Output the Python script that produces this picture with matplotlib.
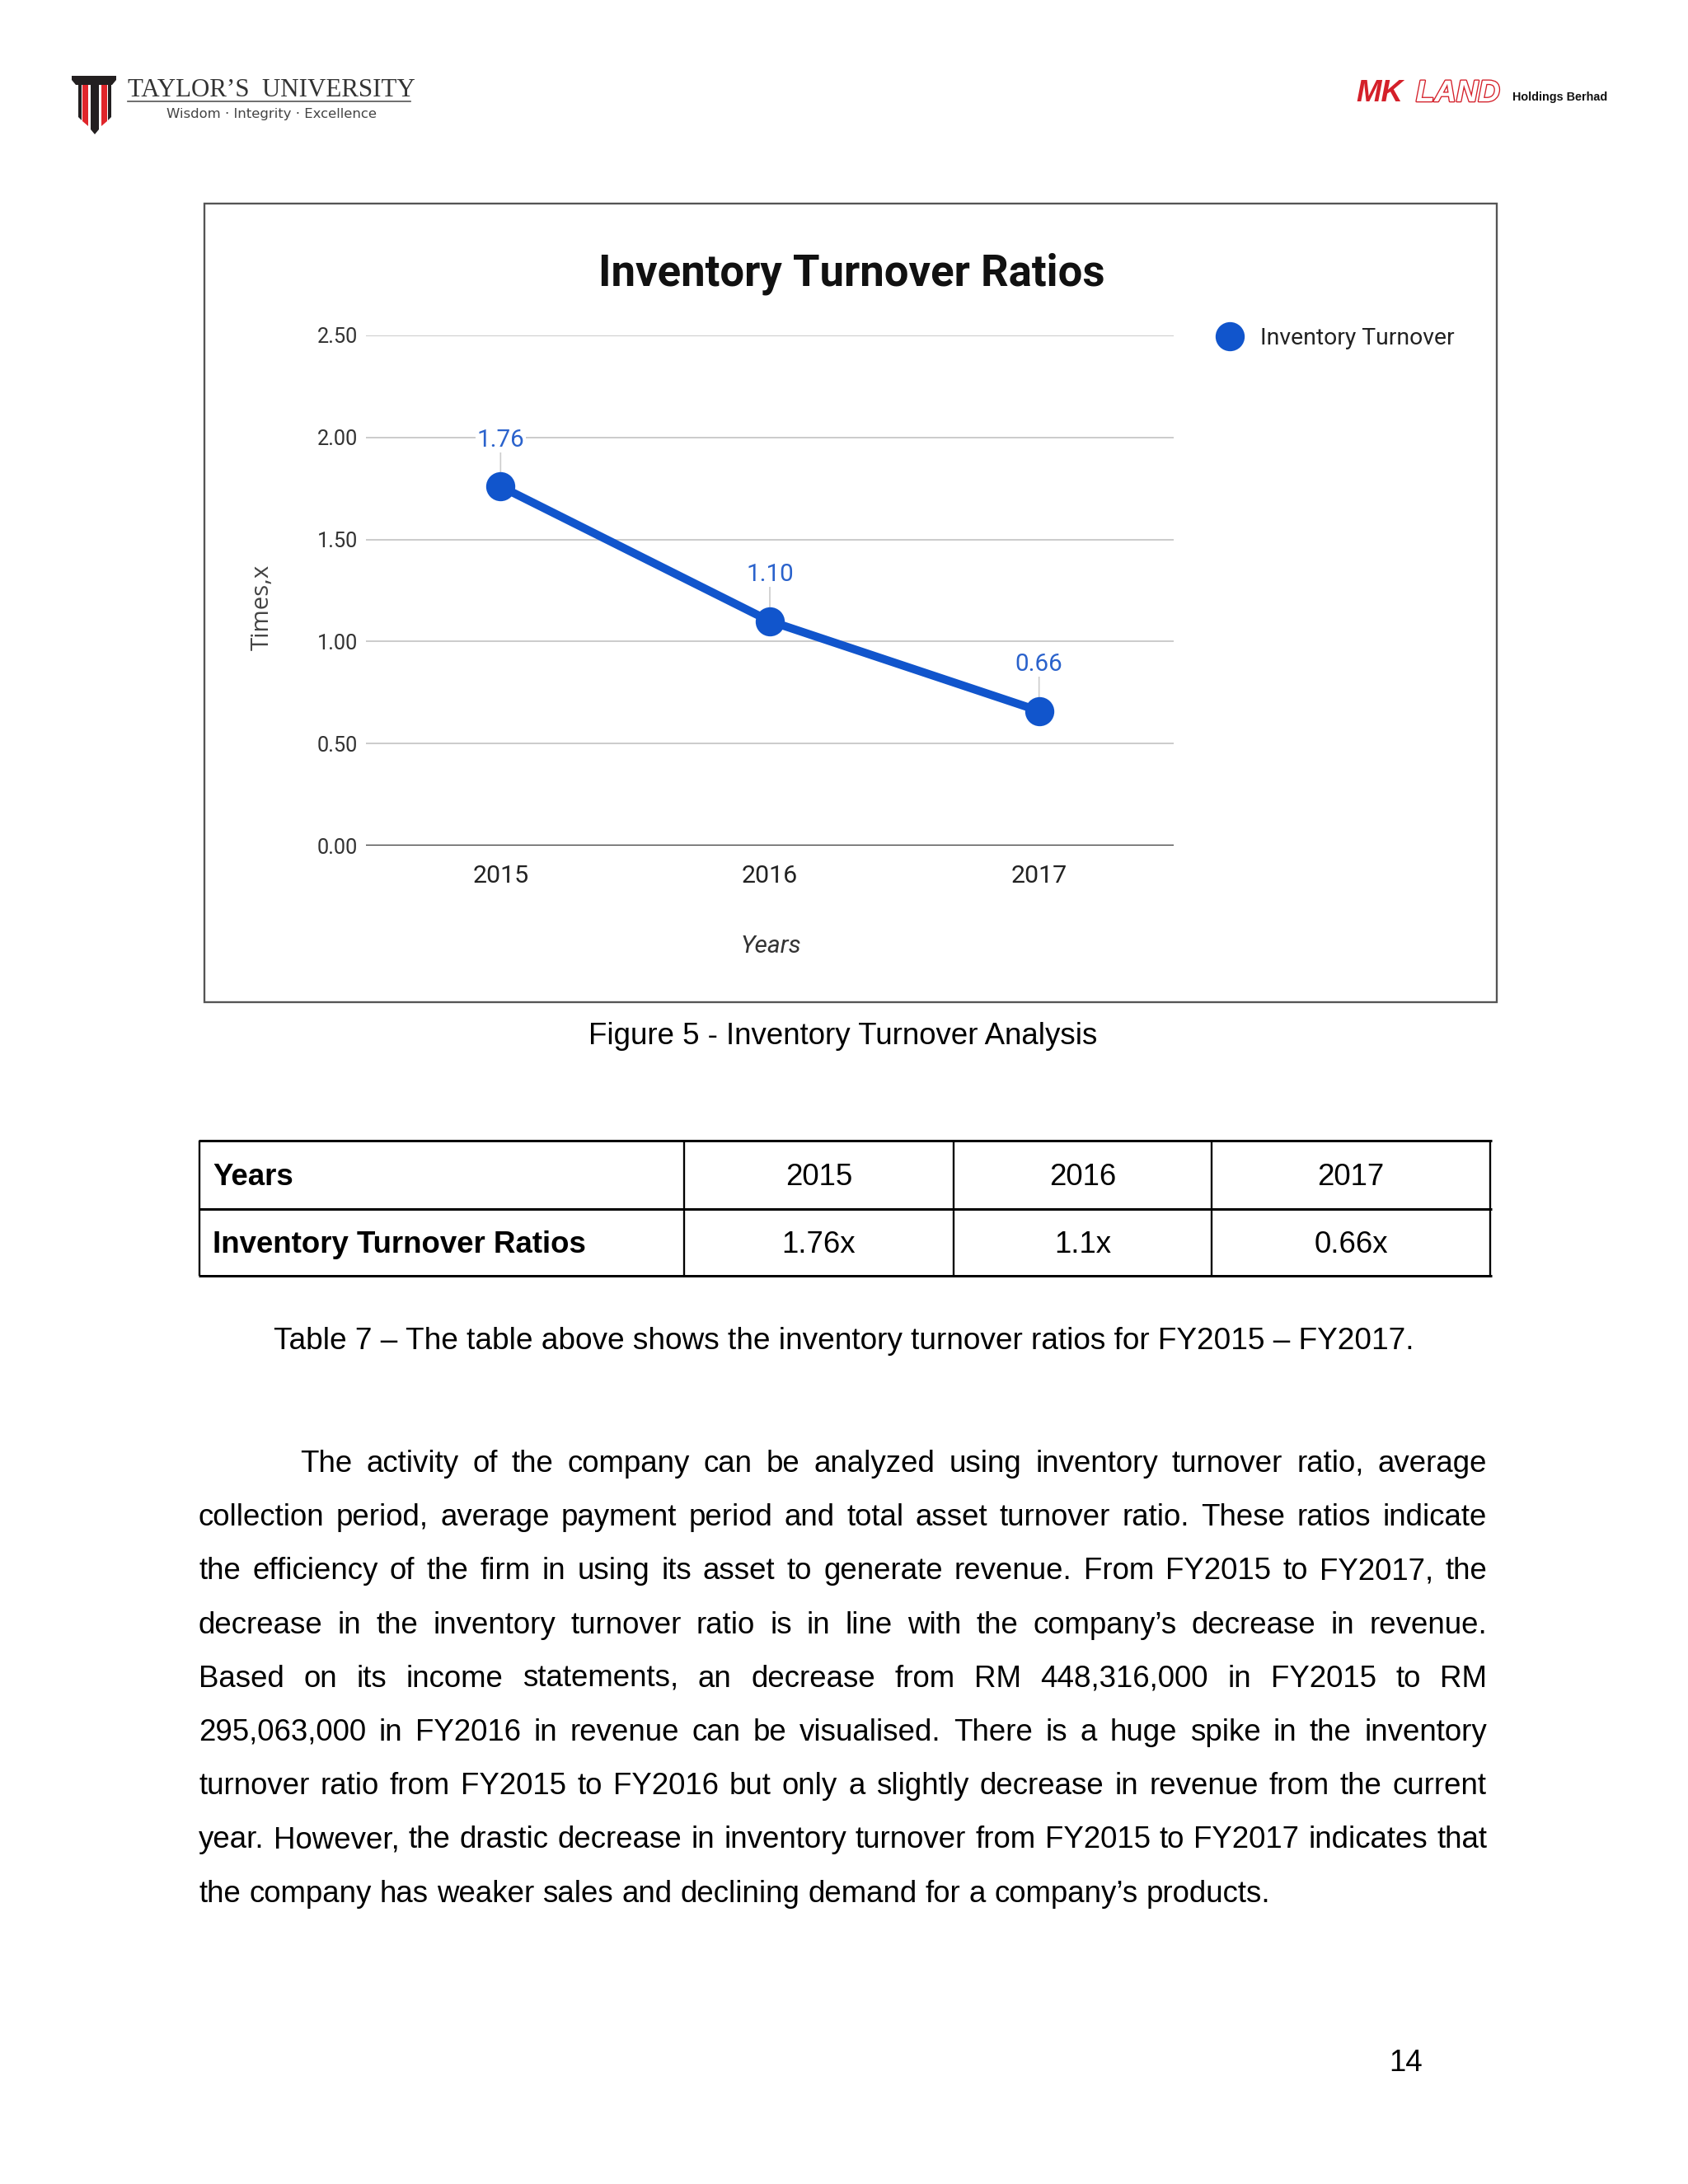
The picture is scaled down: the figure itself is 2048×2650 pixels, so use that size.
import matplotlib
matplotlib.use("Agg")
import matplotlib.pyplot as plt
import matplotlib.patheffects as pe
from matplotlib.patches import Rectangle, Polygon
from matplotlib.lines import Line2D

# datos del grafico
years = ['2015', '2016', '2017']
turnover = [1.76, 1.10, 0.66]
turnover_labels = ['1.76', '1.10', '0.66']
y_ticks = [0.0, 0.5, 1.0, 1.5, 2.0, 2.5]

# datos de la tabla
table_header = 'Years'
table_row_name = 'Inventory Turnover Ratios'
table_values = ['1.76x', '1.1x', '0.66x']

paragraph_lines = [
    "The activity of the company can be analyzed using inventory turnover ratio, average",
    "collection period, average payment period and total asset turnover ratio. These ratios indicate",
    "the efficiency of the firm in using its asset to generate revenue. From FY2015 to FY2017, the",
    "decrease in the inventory turnover ratio is in line with the company\u2019s decrease in revenue.",
    "Based on its income statements, an decrease from RM 448,316,000 in FY2015 to RM",
    "295,063,000 in FY2016 in revenue can be visualised. There is a huge spike in the inventory",
    "turnover ratio from FY2015 to FY2016 but only a slightly decrease in revenue from the current",
    "year. However, the drastic decrease in inventory turnover from FY2015 to FY2017 indicates that",
    "the company has weaker sales and declining demand for a company\u2019s products.",
]

W, H = 2048, 2650
DPI = 240
BLUE = '#1155cc'
DOC_FONT = 'Liberation Sans'

fig = plt.figure(figsize=(W / DPI, H / DPI), dpi=DPI)
fig.patch.set_facecolor('white')

# capa de pagina en pixeles (y hacia abajo)
page = fig.add_axes([0, 0, 1, 1])
page.set_xlim(0, W)
page.set_ylim(H, 0)
page.axis('off')


def box(l, t, r, b):
    return [l / W, 1 - b / H, (r - l) / W, (b - t) / H]


# --- encabezado: logo Taylor's ---
dark = '#231f20'
red = '#e0262b'
page.add_patch(Polygon([(87, 92), (141, 92), (141, 97), (136, 103), (92, 103), (87, 97)],
                       closed=True, color=dark, lw=0))
page.add_patch(Polygon([(95, 103), (99, 103), (99, 146), (95, 142)], closed=True, color=dark, lw=0))
page.add_patch(Polygon([(100, 103), (107, 103), (107, 153), (100, 147)], closed=True, color=red, lw=0))
page.add_patch(Polygon([(110, 103), (120, 103), (120, 157), (115, 163), (110, 157)],
                       closed=True, color=dark, lw=0))
page.add_patch(Polygon([(123, 103), (130, 103), (130, 147), (123, 153)], closed=True, color=red, lw=0))
page.add_patch(Polygon([(131, 103), (135, 103), (135, 142), (131, 146)], closed=True, color=dark, lw=0))
page.text(155, 117, "TAYLOR\u2019S  UNIVERSITY", fontfamily='Liberation Serif', fontsize=9.25,
          color='#333333', ha='left', va='baseline')
page.plot([155, 498], [123, 123], color='#555555', lw=0.5)
page.text(202, 143, "Wisdom \u00b7 Integrity \u00b7 Excellence", fontfamily='DejaVu Sans', fontsize=4.95,
          color='#444444', ha='left', va='baseline')

# --- encabezado: logo MK LAND ---
mk_red = '#d4202a'
page.text(1645, 123, "MK", fontfamily=DOC_FONT, fontsize=11, fontweight='bold', fontstyle='italic',
          color=mk_red, ha='left', va='baseline')
page.text(1718, 123, "LAND", fontfamily=DOC_FONT, fontsize=11, fontweight='bold', fontstyle='italic',
          color='white', ha='left', va='baseline',
          path_effects=[pe.withStroke(linewidth=0.8, foreground=mk_red)])
page.text(1835, 122, "Holdings Berhad", fontfamily=DOC_FONT, fontsize=4.3, fontweight='bold',
          color='#111111', ha='left', va='baseline')

# --- marco del grafico ---
page.add_patch(Rectangle((248, 247), 1816 - 248, 1216 - 247, fill=False, edgecolor='#555555', lw=0.7))

ax = fig.add_axes(box(444, 407, 1424, 1026))
x = list(range(len(years)))
ax.set_xlim(-0.5, len(years) - 0.5)
ax.set_ylim(0, 2.5)
ax.set_yticks(y_ticks)
ax.set_yticklabels([f'{v:.2f}' for v in y_ticks], fontfamily='Roboto', fontsize=7.6, color='#333333')
ax.set_xticks(x)
ax.set_xticklabels(years, fontfamily='Roboto', fontsize=9.1, color='#222222')
ax.tick_params(axis='y', length=0, pad=3)
ax.tick_params(axis='x', length=0, pad=7)
for s in ax.spines.values():
    s.set_visible(False)
ax.grid(axis='y', color='#cccccc', lw=0.6)
ax.set_axisbelow(True)
ax.axhline(0, color='#333333', lw=1.0, zorder=2)

ax.plot(x, turnover, color=BLUE, lw=3, marker='o', ms=9.6, zorder=4, clip_on=False)
for xi, v, lbl in zip(x, turnover, turnover_labels):
    ax.annotate(lbl, (xi, v), xytext=(0, 17), textcoords='offset points', ha='center', va='center',
                fontfamily='Roboto', fontsize=8.9, color='#2a62cc', zorder=3,
                bbox=dict(boxstyle='square,pad=0.05', fc='white', ec='none'),
                arrowprops=dict(arrowstyle='-', color='#cccccc', lw=0.5, shrinkA=0, shrinkB=0))

page.text(1033, 346, 'Inventory Turnover Ratios', fontfamily='Roboto', fontweight='bold',
          fontsize=15.8, ha='center', va='baseline', color='#111111')
page.text(935, 1148, 'Years', fontfamily='Roboto', fontstyle='italic', fontsize=9,
          ha='center', va='center', color='#333333')
page.text(318, 737, 'Times,x', fontfamily='Open Sans', fontsize=8.8, rotation=90,
          ha='center', va='center', color='#444444')

handle = Line2D([], [], ls='none', marker='o', ms=9.6, color=BLUE)
ax.legend([handle], ['Inventory Turnover'], loc='center left',
          bbox_to_anchor=(1478 / W, 1 - 410 / H), bbox_transform=fig.transFigure,
          frameon=False, borderpad=0, borderaxespad=0, handlelength=1.0, handletextpad=0.8,
          prop={'family': 'Roboto', 'size': 8.5}, labelcolor='#222222')

# --- leyenda de la figura ---
page.text(1023, 1267, 'Figure 5 - Inventory Turnover Analysis', fontfamily=DOC_FONT, fontsize=11,
          ha='center', va='baseline', color='black')

# --- tabla ---
t_left, t_right = 242, 1808
t_top, t_mid, t_bot = 1384, 1467, 1548
cols = [t_left, 830, 1157, 1470, t_right]
for yy in (t_top, t_mid, t_bot):
    page.plot([t_left - 1.5, t_right + 1.5], [yy, yy], color='black', lw=0.9, solid_capstyle='butt')
for xx in cols:
    page.plot([xx, xx], [t_top, t_bot], color='black', lw=0.7, solid_capstyle='butt')
page.text(258, 1438, table_header, fontfamily=DOC_FONT, fontsize=11, fontweight='bold',
          ha='left', va='baseline')
page.text(258, 1520, table_row_name, fontfamily=DOC_FONT, fontsize=11, fontweight='bold',
          ha='left', va='baseline')
for i in range(len(years)):
    cx = (cols[i + 1] + cols[i + 2]) / 2
    page.text(cx, 1438, years[i], fontfamily=DOC_FONT, fontsize=11, ha='center', va='baseline')
    page.text(cx, 1520, table_values[i], fontfamily=DOC_FONT, fontsize=11, ha='center', va='baseline')

page.text(1024, 1637, 'Table 7 \u2013 The table above shows the inventory turnover ratios for FY2015 \u2013 FY2017.',
          fontfamily=DOC_FONT, fontsize=11.1, ha='center', va='baseline')

# --- parrafo justificado ---
renderer = fig.canvas.get_renderer()
p_left, p_right, p_indent = 241, 1804, 364
base0, step = 1786, 65.2


def ancho(txt):
    t = page.text(0, 0, txt, fontfamily=DOC_FONT, fontsize=11)
    w = t.get_window_extent(renderer).width
    t.remove()
    return w


space_w = ancho('a a') - ancho('aa')
for n, line in enumerate(paragraph_lines):
    yb = base0 + n * step
    x0 = p_indent if n == 0 else p_left
    words = line.split(' ')
    widths = [ancho(w) for w in words]
    if n == len(paragraph_lines) - 1:
        gap = space_w
    else:
        gap = (p_right - x0 - sum(widths)) / (len(words) - 1)
    xx = x0
    for w, wd in zip(words, widths):
        page.text(xx, yb, w, fontfamily=DOC_FONT, fontsize=11, ha='left', va='baseline')
        xx += wd + gap

page.text(1726, 2513, '14', fontfamily=DOC_FONT, fontsize=11, ha='right', va='baseline')

fig.savefig('out.png', dpi=DPI, facecolor='white')
